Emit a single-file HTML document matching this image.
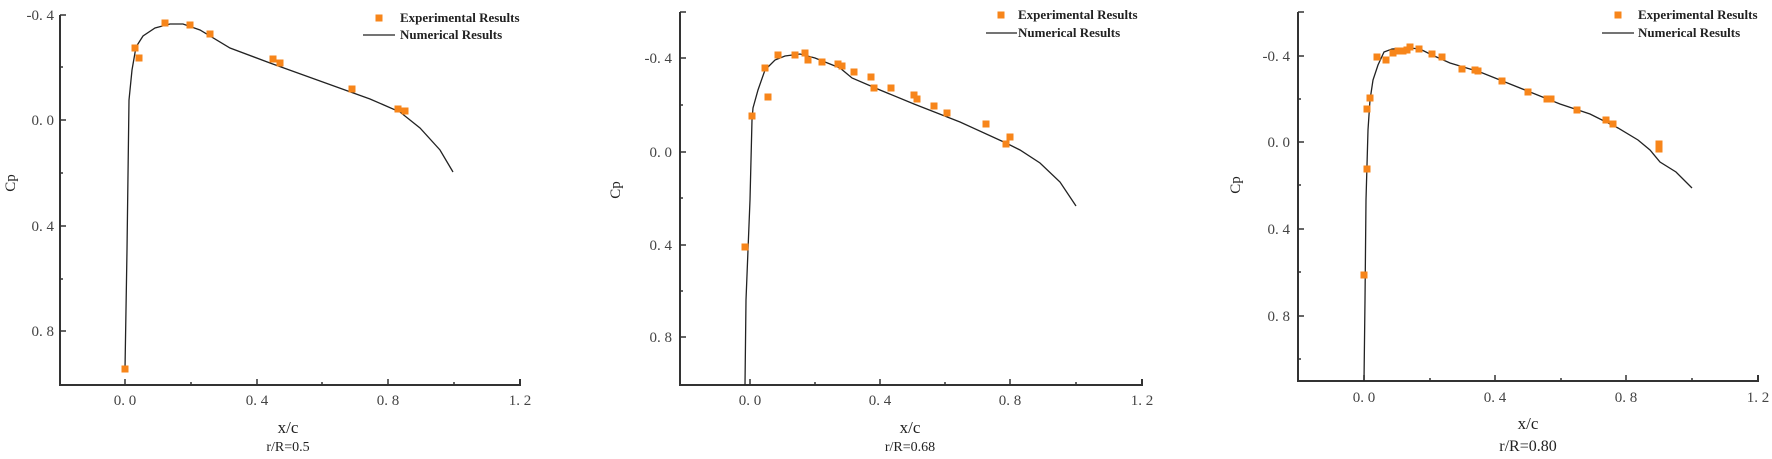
<!DOCTYPE html>
<html><head><meta charset="utf-8"><style>
html,body{margin:0;padding:0;background:#fff;}
svg{display:block;}
.t{font-family:"Liberation Serif",serif;font-size:15px;fill:#444;}
.lg{font-family:"Liberation Serif",serif;font-size:13px;font-weight:bold;fill:#222;}
.ax{stroke:#333;stroke-width:2;fill:none;}
.cv{stroke:#222;stroke-width:1.3;fill:none;}
.m{fill:#f7851a;}
</style></head><body>
<svg width="1772" height="459" viewBox="0 0 1772 459" xmlns="http://www.w3.org/2000/svg">
<!-- Panel 1 -->
<g>
<path class="ax" d="M60 15 V385 H520 V379"/>
<g stroke="#333" stroke-width="1.5">
<line x1="60" y1="15" x2="66" y2="15"/><line x1="60" y1="67" x2="63" y2="67"/>
<line x1="60" y1="120" x2="66" y2="120"/><line x1="60" y1="173" x2="63" y2="173"/>
<line x1="60" y1="226" x2="66" y2="226"/><line x1="60" y1="279" x2="63" y2="279"/>
<line x1="60" y1="331" x2="66" y2="331"/>
<line x1="125" y1="385" x2="125" y2="379"/><line x1="191" y1="385" x2="191" y2="382"/>
<line x1="257" y1="385" x2="257" y2="379"/><line x1="322" y1="385" x2="322" y2="382"/>
<line x1="388" y1="385" x2="388" y2="379"/><line x1="454" y1="385" x2="454" y2="382"/>
</g>
<g class="t" text-anchor="end">
<text x="54" y="20">-0. 4</text><text x="54" y="125">0. 0</text>
<text x="54" y="231">0. 4</text><text x="54" y="336">0. 8</text>
</g>
<g class="t" text-anchor="middle">
<text x="125" y="405">0. 0</text><text x="257" y="405">0. 4</text>
<text x="388" y="405">0. 8</text><text x="520" y="405">1. 2</text>
<text x="288" y="433" style="font-size:17px;fill:#222">x/c</text>
<text x="288" y="451" style="font-size:14px;fill:#222">r/R=0.5</text>
</g>
<text class="t" transform="translate(15,183) rotate(-90)" text-anchor="middle" style="fill:#222">Cp</text>
<path class="cv" d="M125 369 L127 250 L129 100 L132 70 L136 47 L143 36 L155 28 L170 24 L183 24 L200 30 L230 48 L270 63 L320 81 L370 99 L400 112 L420 128 L440 150 L453 172"/>
<g class="m">
<rect x="121.5" y="365.5" width="7" height="7"/><rect x="131.5" y="44.5" width="7" height="7"/>
<rect x="135.5" y="54.5" width="7" height="7"/><rect x="161.5" y="19.5" width="7" height="7"/>
<rect x="186.5" y="21.5" width="7" height="7"/><rect x="206.5" y="30.5" width="7" height="7"/>
<rect x="269.5" y="55.5" width="7" height="7"/><rect x="276.5" y="59.5" width="7" height="7"/>
<rect x="348.5" y="85.5" width="7" height="7"/><rect x="394.5" y="105.5" width="7" height="7"/>
<rect x="401.5" y="107.5" width="7" height="7"/>
<rect x="375.5" y="14.5" width="7" height="7"/>
</g>
<line x1="363" y1="35" x2="395" y2="35" stroke="#222" stroke-width="1.3"/>
<text class="lg" x="400" y="22">Experimental Results</text>
<text class="lg" x="400" y="39">Numerical Results</text>
</g>

<!-- Panel 2 -->
<g>
<path class="ax" d="M680 12 V385 H1142 V379"/>
<g stroke="#333" stroke-width="1.5">
<line x1="680" y1="12" x2="686" y2="12"/><line x1="680" y1="58" x2="686" y2="58"/>
<line x1="680" y1="105" x2="683" y2="105"/><line x1="680" y1="152" x2="686" y2="152"/>
<line x1="680" y1="198" x2="683" y2="198"/><line x1="680" y1="245" x2="686" y2="245"/>
<line x1="680" y1="291" x2="683" y2="291"/><line x1="680" y1="337" x2="686" y2="337"/>
<line x1="750" y1="385" x2="750" y2="379"/><line x1="815" y1="385" x2="815" y2="382"/>
<line x1="880" y1="385" x2="880" y2="379"/><line x1="945" y1="385" x2="945" y2="382"/>
<line x1="1010" y1="385" x2="1010" y2="379"/><line x1="1076" y1="385" x2="1076" y2="382"/>
</g>
<g class="t" text-anchor="end">
<text x="672" y="63">-0. 4</text><text x="672" y="157">0. 0</text>
<text x="672" y="250">0. 4</text><text x="672" y="342">0. 8</text>
</g>
<g class="t" text-anchor="middle">
<text x="750" y="405">0. 0</text><text x="880" y="405">0. 4</text>
<text x="1010" y="405">0. 8</text><text x="1142" y="405">1. 2</text>
<text x="910" y="433" style="font-size:17px;fill:#222">x/c</text>
<text x="910" y="451" style="font-size:14px;fill:#222">r/R=0.68</text>
</g>
<text class="t" transform="translate(620,190) rotate(-90)" text-anchor="middle" style="fill:#222">Cp</text>
<path class="cv" d="M745 385 L746 300 L750 200 L752 120 L753 108 L758 90 L765 70 L775 60 L785 56 L800 54 L815 58 L840 68 L852 78 L880 90 L914 104 L960 122 L1006 143 L1020 150 L1040 163 L1060 182 L1076 206"/>
<g class="m">
<rect x="741.5" y="243.5" width="7" height="7"/><rect x="748.5" y="112.5" width="7" height="7"/>
<rect x="761.5" y="64.5" width="7" height="7"/><rect x="764.5" y="93.5" width="7" height="7"/>
<rect x="774.5" y="51.5" width="7" height="7"/><rect x="791.5" y="51.5" width="7" height="7"/>
<rect x="801.5" y="49.5" width="7" height="7"/><rect x="804.5" y="56.5" width="7" height="7"/>
<rect x="818.5" y="58.5" width="7" height="7"/><rect x="834.5" y="60.5" width="7" height="7"/>
<rect x="838.5" y="62.5" width="7" height="7"/><rect x="850.5" y="68.5" width="7" height="7"/>
<rect x="867.5" y="73.5" width="7" height="7"/><rect x="870.5" y="84.5" width="7" height="7"/>
<rect x="887.5" y="84.5" width="7" height="7"/><rect x="910.5" y="91.5" width="7" height="7"/>
<rect x="913.5" y="95.5" width="7" height="7"/><rect x="930.5" y="102.5" width="7" height="7"/>
<rect x="943.5" y="109.5" width="7" height="7"/><rect x="982.5" y="120.5" width="7" height="7"/>
<rect x="1002.5" y="140.5" width="7" height="7"/><rect x="1006.5" y="133.5" width="7" height="7"/>
<rect x="997.5" y="11.5" width="7" height="7"/>
</g>
<line x1="986" y1="33" x2="1017" y2="33" stroke="#222" stroke-width="1.3"/>
<text class="lg" x="1018" y="19">Experimental Results</text>
<text class="lg" x="1018" y="37">Numerical Results</text>
</g>

<!-- Panel 3 -->
<g>
<path class="ax" d="M1298 12 V381 H1758 V375"/>
<g stroke="#333" stroke-width="1.5">
<line x1="1298" y1="12" x2="1304" y2="12"/><line x1="1298" y1="56" x2="1304" y2="56"/>
<line x1="1298" y1="99" x2="1301" y2="99"/><line x1="1298" y1="142" x2="1304" y2="142"/>
<line x1="1298" y1="185" x2="1301" y2="185"/><line x1="1298" y1="229" x2="1304" y2="229"/>
<line x1="1298" y1="272" x2="1301" y2="272"/><line x1="1298" y1="316" x2="1304" y2="316"/>
<line x1="1298" y1="359" x2="1301" y2="359"/>
<line x1="1364" y1="381" x2="1364" y2="375"/><line x1="1430" y1="381" x2="1430" y2="378"/>
<line x1="1495" y1="381" x2="1495" y2="375"/><line x1="1561" y1="381" x2="1561" y2="378"/>
<line x1="1626" y1="381" x2="1626" y2="375"/><line x1="1692" y1="381" x2="1692" y2="378"/>
</g>
<g class="t" text-anchor="end">
<text x="1290" y="61">-0. 4</text><text x="1290" y="147">0. 0</text>
<text x="1290" y="234">0. 4</text><text x="1290" y="321">0. 8</text>
</g>
<g class="t" text-anchor="middle">
<text x="1364" y="402">0. 0</text><text x="1495" y="402">0. 4</text>
<text x="1626" y="402">0. 8</text><text x="1758" y="402">1. 2</text>
<text x="1528" y="429" style="font-size:17px;fill:#222">x/c</text>
<text x="1528" y="451" style="font-size:16px;fill:#222">r/R=0.80</text>
</g>
<text class="t" transform="translate(1240,185) rotate(-90)" text-anchor="middle" style="fill:#222">Cp</text>
<path class="cv" d="M1364 381 L1365 300 L1366 200 L1368 130 L1370 100 L1373 80 L1378 65 L1384 52 L1392 49 L1410 48 L1420 49 L1432 55 L1450 63 L1480 72 L1510 84 L1530 92 L1560 104 L1590 114 L1618 128 L1638 140 L1650 150 L1660 162 L1676 172 L1692 188"/>
<g class="m">
<rect x="1360.5" y="271.5" width="7" height="7"/><rect x="1363.5" y="105.5" width="7" height="7"/>
<rect x="1363.5" y="165.5" width="7" height="7"/><rect x="1366.5" y="94.5" width="7" height="7"/>
<rect x="1373.5" y="53.5" width="7" height="7"/><rect x="1382.5" y="56.5" width="7" height="7"/>
<rect x="1389.5" y="49.5" width="7" height="7"/><rect x="1394.5" y="47.5" width="7" height="7"/>
<rect x="1399.5" y="47.5" width="7" height="7"/><rect x="1403.5" y="46.5" width="7" height="7"/>
<rect x="1406.5" y="43.5" width="7" height="7"/><rect x="1415.5" y="45.5" width="7" height="7"/>
<rect x="1428.5" y="50.5" width="7" height="7"/><rect x="1438.5" y="53.5" width="7" height="7"/>
<rect x="1458.5" y="65.5" width="7" height="7"/><rect x="1471.5" y="66.5" width="7" height="7"/>
<rect x="1474.5" y="67.5" width="7" height="7"/><rect x="1498.5" y="77.5" width="7" height="7"/>
<rect x="1524.5" y="88.5" width="7" height="7"/><rect x="1543.5" y="95.5" width="7" height="7"/>
<rect x="1547.5" y="95.5" width="7" height="7"/><rect x="1573.5" y="106.5" width="7" height="7"/>
<rect x="1602.5" y="116.5" width="7" height="7"/><rect x="1609.5" y="120.5" width="7" height="7"/>
<rect x="1655.5" y="140.5" width="7" height="7"/><rect x="1655.5" y="145.5" width="7" height="7"/>
<rect x="1614.5" y="11.5" width="7" height="7"/>
</g>
<line x1="1602" y1="33" x2="1634" y2="33" stroke="#222" stroke-width="1.3"/>
<text class="lg" x="1638" y="19">Experimental Results</text>
<text class="lg" x="1638" y="37">Numerical Results</text>
</g>
</svg>
</body></html>
